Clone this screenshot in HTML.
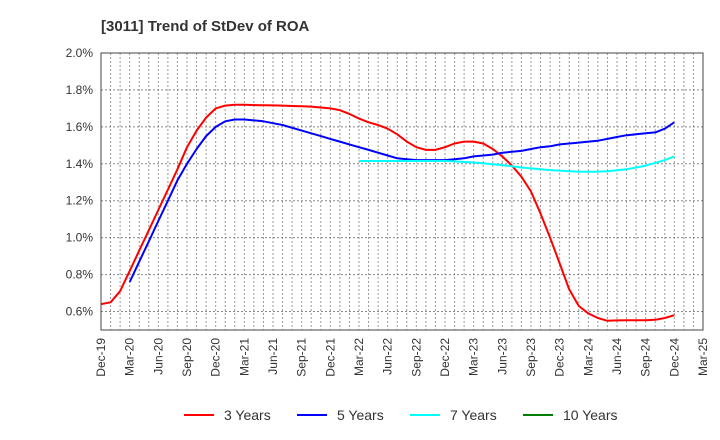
<!DOCTYPE html>
<html><head><meta charset="utf-8"><style>
body{margin:0;background:#fff;}
svg{display:block;font-family:"Liberation Sans",sans-serif;}
</style></head><body>
<svg id="chart" width="720" height="440">
<text x="101" y="31" font-size="15" font-weight="bold" fill="#333">[3011]  Trend of StDev of ROA</text>
<g id="grid"></g><g id="series"></g><g id="axes"></g><g id="legend"></g>
</svg>
<script>
const xLabels=["Dec-19","Mar-20","Jun-20","Sep-20","Dec-20","Mar-21","Jun-21","Sep-21","Dec-21","Mar-22","Jun-22","Sep-22","Dec-22","Mar-23","Jun-23","Sep-23","Dec-23","Mar-24","Jun-24","Sep-24","Dec-24","Mar-25"];
const yTicks=[0.6,0.8,1.0,1.2,1.4,1.6,1.8,2.0];
const red3=[0.64,0.65,0.71,0.82,0.93,1.04,1.15,1.26,1.37,1.49,1.58,1.65,1.70,1.715,1.72,1.72,1.718,1.717,1.716,1.715,1.713,1.712,1.71,1.705,1.70,1.69,1.67,1.645,1.625,1.61,1.59,1.56,1.52,1.49,1.475,1.475,1.49,1.51,1.52,1.52,1.51,1.48,1.44,1.39,1.33,1.25,1.13,1.00,0.86,0.72,0.63,0.59,0.565,0.55,0.552,0.553,0.553,0.553,0.555,0.565,0.58];
const blue5Start=3;
const blue5=[0.76,0.87,0.98,1.09,1.20,1.31,1.40,1.48,1.55,1.60,1.63,1.64,1.64,1.635,1.63,1.62,1.61,1.595,1.58,1.565,1.55,1.535,1.52,1.505,1.49,1.475,1.46,1.445,1.43,1.425,1.42,1.42,1.42,1.42,1.425,1.43,1.44,1.445,1.45,1.46,1.465,1.47,1.48,1.49,1.495,1.505,1.51,1.515,1.52,1.525,1.535,1.545,1.555,1.56,1.565,1.57,1.59,1.625];
const cyan7Start=27;
const cyan7=[1.415,1.415,1.415,1.415,1.415,1.415,1.415,1.415,1.415,1.415,1.413,1.41,1.407,1.403,1.398,1.393,1.387,1.38,1.375,1.37,1.366,1.363,1.36,1.358,1.357,1.358,1.36,1.365,1.37,1.38,1.39,1.405,1.42,1.44];
const L=101,R=703,T=53,B=330,yMin=0.5,yMax=2.0,nMonths=63;
const xs=m=>L+(R-L)*m/nMonths;
const ys=v=>B-(B-T)*(v-yMin)/(yMax-yMin);
const NS="http://www.w3.org/2000/svg";
function mk(tag,attrs,parent){const e=document.createElementNS(NS,tag);for(const k in attrs)e.setAttribute(k,attrs[k]);parent.appendChild(e);return e;}
const grid=document.getElementById('grid'),axes=document.getElementById('axes'),series=document.getElementById('series'),legend=document.getElementById('legend');
for(let m=1;m<nMonths;m++){const l=mk('line',{x1:xs(m),x2:xs(m),y1:T,y2:B,stroke:'#999','stroke-width':1,'stroke-dasharray':'2,2'},grid);

}
yTicks.forEach(v=>{const l=mk('line',{x1:L,x2:R,y1:ys(v),y2:ys(v),stroke:'#888','stroke-width':1,'stroke-dasharray':'2,2'},grid);


const t=mk('text',{x:L-8,y:ys(v)+4,'text-anchor':'end','font-size':12,fill:'#333'},axes);t.textContent=v.toFixed(1)+'%';

});
const frame=mk('rect',{x:L,y:T,width:R-L,height:B-T,fill:'none',stroke:'#444','stroke-width':1},axes);


xLabels.forEach((s,i)=>{const x=xs(i*3);const t=mk('text',{x:0,y:0,'text-anchor':'end','font-size':12,fill:'#333',transform:`translate(${x+4},338) rotate(-90)`},axes);t.textContent=s;

});
function drawLine(data,start,color,name){const pts=data.map((v,i)=>xs(start+i).toFixed(1)+','+ys(v).toFixed(1)).join(' ');
const p=mk('polyline',{points:pts,fill:'none',stroke:color,'stroke-width':2,'stroke-linejoin':'round'},series);

}
drawLine(red3,0,'#ff0000','line-3-years');
drawLine(blue5,blue5Start,'#0000ff','line-5-years');
drawLine(cyan7,cyan7Start,'#00ffff','line-7-years');
const leg=[["3 Years","#ff0000",184],["5 Years","#0000ff",297],["7 Years","#00ffff",410],["10 Years","#008000",523]];
leg.forEach(([s,c,x])=>{const g=mk('g',{},legend);


mk('line',{x1:x,x2:x+30,y1:415,y2:415,stroke:c,'stroke-width':2},g);
const t=mk('text',{x:x+40,y:420,'font-size':14,fill:'#333'},g);t.textContent=s;});
</script>
</body></html>
